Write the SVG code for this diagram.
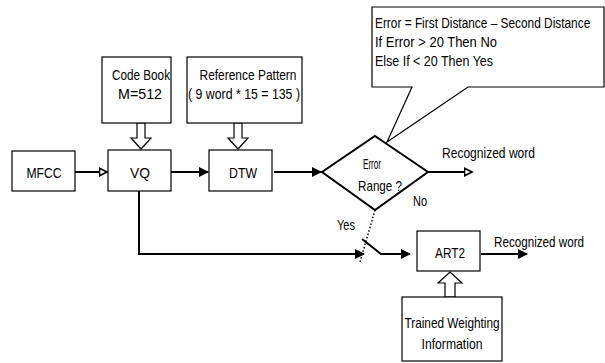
<svg xmlns="http://www.w3.org/2000/svg" width="605" height="363" viewBox="0 0 605 363">
<style>
  .box{fill:#fff;stroke:#000;stroke-width:1.2}
  .t{font-family:"Liberation Sans",Arial,sans-serif;font-size:15px;fill:#000;text-anchor:middle}
  .tl{font-family:"Liberation Sans",Arial,sans-serif;font-size:15px;fill:#000}
  .ln{fill:none;stroke:#000;stroke-width:2}
  .hollow{fill:#fff;stroke:#000;stroke-width:1.2}
</style>
<defs>
  <marker id="af" viewBox="0 0 10 10" refX="9" refY="5" markerWidth="10" markerHeight="10" markerUnits="userSpaceOnUse" orient="auto">
    <path d="M0,0 L10,5 L0,10 z" fill="#000"/>
  </marker>
  <marker id="ao" viewBox="0 0 12 12" refX="10" refY="6" markerWidth="10" markerHeight="10" markerUnits="userSpaceOnUse" orient="auto">
    <path d="M1,1.5 L10,6 L1,10.5 z" fill="#fff" stroke="#000" stroke-width="2"/>
  </marker>
</defs>
<rect width="605" height="363" fill="#fff"/>

<g id="connectors">
  <line class="ln" x1="75" y1="172" x2="107" y2="172" marker-end="url(#ao)"/>
  <line class="ln" x1="171" y1="172" x2="208" y2="172" marker-end="url(#af)"/>
  <line class="ln" x1="274" y1="172" x2="321" y2="172" marker-end="url(#af)"/>
  <line class="ln" x1="428" y1="172" x2="472" y2="172" marker-end="url(#ao)"/>
  <polyline class="ln" points="139,191 139,254 364,254" marker-end="url(#af)"/>
  <line x1="375" y1="210" x2="360" y2="262" stroke="#000" stroke-width="1.5" stroke-dasharray="1.5,2"/>
  <polyline class="ln" points="362,239 381,254 410,254" marker-end="url(#af)"/>
  <line class="ln" x1="481" y1="254" x2="527" y2="254" marker-end="url(#af)"/>
  <polygon class="hollow" points="137,123 145,123 145,138 151,138 141,149 131,138 137,138"/>
  <polygon class="hollow" points="234,123 242,123 242,138 248,138 238,149 228,138 234,138"/>
  <polygon class="hollow" points="445,297 455,297 455,283 462,283 450,272 438,283 445,283"/>
</g>

<g id="mfcc">
  <rect class="box" x="12" y="151" width="63" height="40"/>
  <text class="t" x="44" y="178" textLength="35" lengthAdjust="spacingAndGlyphs">MFCC</text>
</g>
<g id="vq">
  <rect class="box" x="108" y="150" width="63" height="41"/>
  <text class="t" x="140" y="178" textLength="20" lengthAdjust="spacingAndGlyphs">VQ</text>
</g>
<g id="dtw">
  <rect class="box" x="209" y="150" width="63" height="41"/>
  <text class="t" x="243" y="178" textLength="28" lengthAdjust="spacingAndGlyphs">DTW</text>
</g>
<g id="codebook">
  <rect class="box" x="102" y="57" width="69" height="66"/>
  <text class="t" x="141" y="80" textLength="58" lengthAdjust="spacingAndGlyphs">Code Book</text>
  <text class="t" x="140" y="99" textLength="44" lengthAdjust="spacingAndGlyphs">M=512</text>
</g>
<g id="refpattern">
  <rect class="box" x="187" y="57" width="115" height="66"/>
  <text class="t" x="248" y="80" textLength="97" lengthAdjust="spacingAndGlyphs">Reference Pattern</text>
  <text class="t" x="244" y="99" textLength="112" lengthAdjust="spacingAndGlyphs">( 9 word * 15 = 135 )</text>
</g>
<g id="decision">
  <polygon points="375,136 428,172 375,210 322,172" fill="#fff" stroke="#000" stroke-width="2"/>
  <text class="t" x="372" y="169" textLength="18" lengthAdjust="spacingAndGlyphs">Error</text>
  <text class="t" x="380" y="191" textLength="44" lengthAdjust="spacingAndGlyphs">Range ?</text>
</g>
<g id="callout">
  <path d="M412,87 L372,87 L372,7 L604,7 L604,87 L468,87 L387,142 Z" fill="#fff" stroke="#000" stroke-width="1.2"/>
  <text class="tl" transform="translate(375,28) scale(0.75,1)" x="0" y="0" textLength="287" lengthAdjust="spacingAndGlyphs">Error = First Distance – Second Distance</text>
  <text class="tl" x="375" y="47" textLength="122" lengthAdjust="spacingAndGlyphs">If Error &gt; 20  Then No</text>
  <text class="tl" x="375" y="66" textLength="118" lengthAdjust="spacingAndGlyphs">Else If &lt; 20 Then Yes</text>
</g>
<g id="labels">
  <text class="tl" x="442" y="158" textLength="93" lengthAdjust="spacingAndGlyphs">Recognized word</text>
  <text class="tl" x="413" y="206" textLength="14" lengthAdjust="spacingAndGlyphs">No</text>
  <text class="tl" x="337" y="230" textLength="18" lengthAdjust="spacingAndGlyphs">Yes</text>
  <text class="tl" transform="translate(494,247) scale(0.75,1)" x="0" y="0" textLength="120" lengthAdjust="spacingAndGlyphs">Recognized word</text>
</g>
<g id="art2">
  <rect class="box" x="417" y="231" width="63" height="40"/>
  <text class="t" x="450" y="258" textLength="30" lengthAdjust="spacingAndGlyphs">ART2</text>
</g>
<g id="trained">
  <rect class="box" x="402" y="297" width="100" height="64"/>
  <text class="t" x="452" y="328" textLength="95" lengthAdjust="spacingAndGlyphs">Trained Weighting</text>
  <text class="t" x="452" y="349" textLength="61" lengthAdjust="spacingAndGlyphs">Information</text>
</g>
</svg>
